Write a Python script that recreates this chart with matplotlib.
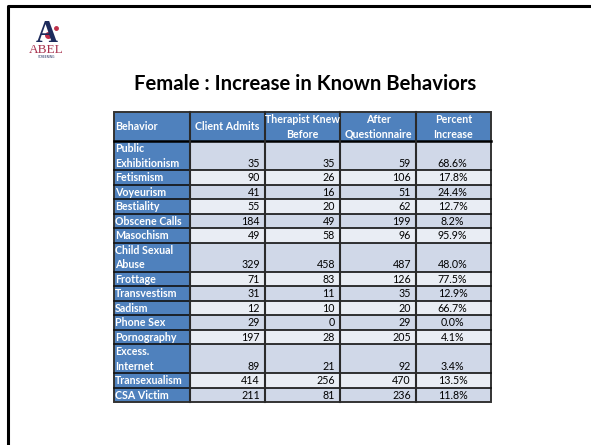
import matplotlib
matplotlib.use('Agg')
import matplotlib.pyplot as plt
from matplotlib.patches import Rectangle

# table data
headers = ['Behavior', 'Client Admits', 'Therapist Knew\nBefore', 'After\nQuestionnaire', 'Percent\nIncrease']
behaviors = ['Public\nExhibitionism', 'Fetismism', 'Voyeurism', 'Bestiality', 'Obscene Calls',
             'Masochism', 'Child Sexual\nAbuse', 'Frottage', 'Transvestism', 'Sadism',
             'Phone Sex', 'Pornography', 'Excess.\nInternet', 'Transexualism', 'CSA Victim']
client_admits = [35, 90, 41, 55, 184, 49, 329, 71, 31, 12, 29, 197, 89, 414, 211]
therapist_knew = [35, 26, 16, 20, 49, 58, 458, 83, 11, 10, 0, 28, 21, 256, 81]
after_questionnaire = [59, 106, 51, 62, 199, 96, 487, 126, 35, 20, 29, 205, 92, 470, 236]
percent_increase = [68.6, 17.8, 24.4, 12.7, 8.2, 95.9, 48.0, 77.5, 12.9, 66.7, 0.0, 4.1, 3.4, 13.5, 11.8]

title = 'Female : Increase in Known Behaviors'

# layout (pixels)
W, H = 591, 445
colEdges = [114, 190, 265, 340, 416, 491]
tableTop = 112
unit = 14.5
blue = '#4F81BD'
rowDark = '#D0D8E8'
rowLight = '#E9EDF4'
font = 'Lato'
cellSize = 7.7

fig = plt.figure(figsize=(W / 100, H / 100), dpi=100)
ax = fig.add_axes([0, 0, 1, 1])
ax.set_xlim(0, W)
ax.set_ylim(H, 0)
ax.axis('off')

# slide frame (top and left edges visible)
ax.plot([7.5, 7.5, W], [H, 6, 6], color='black', lw=2.2, solid_capstyle='butt')

# logo
ax.text(47, 42, 'A', family='Liberation Serif', fontsize=22, fontweight='bold',
        color='#1d2b5c', ha='center', va='baseline')
ax.plot([55.5], [28], 'o', color='#c0304a', ms=2.5)
ax.plot([48], [35], 'o', color='#c0304a', ms=4)
ax.text(46.5, 53, 'ABEL', family='Liberation Serif', fontsize=9.5,
        color='#a8324e', ha='center', va='baseline')
ax.text(46.5, 58, 'SCREENING', family='DejaVu Sans', fontsize=2.2,
        color='#1d2b5c', ha='center', va='baseline')

ax.text(305, 90, title, family=font, fontsize=14.6, fontweight='bold',
        color='black', ha='center', va='baseline')


def drawLines(lines, x, yBottom, nUnits, ha, color, weight, center=False):
    n = len(lines)
    if center:
        start = yBottom - nUnits * unit + (nUnits - n) * unit / 2
    else:
        start = yBottom - n * unit
    for k, line in enumerate(lines):
        ax.text(x, start + (k + 0.5) * unit + 0.5, line, family=font, fontsize=cellSize,
                fontweight=weight, color=color, ha=ha, va='center')


# header row
headerBottom = tableTop + 2 * unit
for j, h in enumerate(headers):
    x0, x1 = colEdges[j], colEdges[j + 1]
    ax.add_patch(Rectangle((x0, tableTop), x1 - x0, 2 * unit, color=blue, lw=0))
    if j == 0:
        drawLines(h.split('\n'), x0 + 1, headerBottom, 2, 'left', 'white', 'bold', center=True)
    else:
        drawLines(h.split('\n'), (x0 + x1) / 2, headerBottom, 2, 'center', 'white', 'bold', center=True)

# data rows
y = headerBottom
rowBounds = [y]
for i, b in enumerate(behaviors):
    nUnits = 2 if '\n' in b else 1
    h = nUnits * unit
    fill = rowDark if i % 2 == 0 else rowLight
    ax.add_patch(Rectangle((colEdges[0], y), colEdges[1] - colEdges[0], h, color=blue, lw=0))
    ax.add_patch(Rectangle((colEdges[1], y), colEdges[-1] - colEdges[1], h, color=fill, lw=0))
    yb = y + h
    drawLines(b.split('\n'), colEdges[0] + 1, yb, nUnits, 'left', 'white', 'bold')
    vals = [client_admits[i], therapist_knew[i], after_questionnaire[i]]
    for j, v in enumerate(vals):
        drawLines([str(v)], colEdges[j + 2] - 5, yb, nUnits, 'right', 'black', 'normal')
    drawLines([f'{percent_increase[i]:.1f}%'], (colEdges[4] + colEdges[5]) / 2 - 1, yb, nUnits,
              'center', 'black', 'normal')
    y = yb
    rowBounds.append(y)

tableBottom = y

# grid lines
for yy in rowBounds[1:-1]:
    ax.plot([colEdges[0], colEdges[-1]], [yy, yy], color='#111111', lw=1.2)
ax.plot([colEdges[0], colEdges[-1]], [headerBottom, headerBottom], color='black', lw=1.8)
for xx in colEdges[1:-1]:
    ax.plot([xx, xx], [tableTop, tableBottom], color='#2a2a2a', lw=1.5)
ax.add_patch(Rectangle((colEdges[0], tableTop), colEdges[-1] - colEdges[0], tableBottom - tableTop,
                       fill=False, edgecolor='#333333', lw=1.4))

fig.savefig('out.png', dpi=100)
